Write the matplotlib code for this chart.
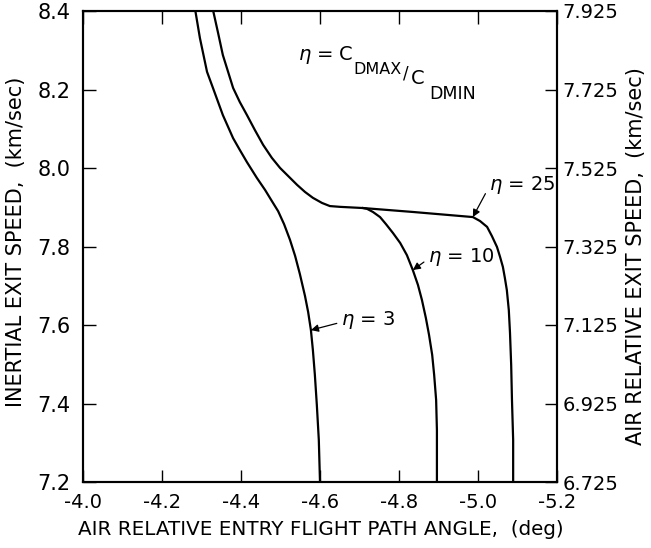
import matplotlib
matplotlib.use("Agg")
import matplotlib.pyplot as plt

# ---- Exit speed vs. entry flight path angle for three drag-modulation ratios ----
# eta = 3
gamma_3 = [-4.284, -4.296, -4.314, -4.329, -4.354, -4.380, -4.397, -4.415, -4.440,
           -4.461, -4.478, -4.494, -4.509, -4.524, -4.537, -4.549, -4.562, -4.570,
           -4.577, -4.582, -4.587, -4.592, -4.597, -4.600]
v_3 = [8.403, 8.331, 8.245, 8.204, 8.135, 8.076, 8.046, 8.015, 7.975,
       7.944, 7.916, 7.890, 7.857, 7.817, 7.776, 7.730, 7.674, 7.633,
       7.587, 7.536, 7.473, 7.396, 7.307, 7.200]

# eta = 25
gamma_25 = [-4.329, -4.342, -4.354, -4.380, -4.397, -4.415, -4.435, -4.456, -4.478,
            -4.499, -4.522, -4.542, -4.562, -4.582, -4.605, -4.625, -4.651, -4.709,
            -4.835, -4.987, -5.005, -5.023, -5.035, -5.048, -5.056, -5.063, -5.068,
            -5.073, -5.078, -5.081, -5.084, -5.086, -5.089, -5.089]
v_25 = [8.403, 8.344, 8.288, 8.204, 8.168, 8.135, 8.097, 8.059, 8.026,
        8.000, 7.977, 7.957, 7.939, 7.924, 7.911, 7.903, 7.901, 7.898,
        7.888, 7.875, 7.865, 7.850, 7.827, 7.799, 7.773, 7.748, 7.720,
        7.689, 7.638, 7.580, 7.498, 7.409, 7.307, 7.200]

# eta = 10 (shares the upper branch with eta = 25 until it peels off)
gamma_10 = [-4.709, -4.719, -4.734, -4.752, -4.767, -4.785, -4.803, -4.820, -4.835,
            -4.848, -4.858, -4.868, -4.876, -4.884, -4.889, -4.894, -4.896, -4.896]
v_10 = [7.898, 7.896, 7.888, 7.875, 7.857, 7.834, 7.809, 7.778, 7.740,
        7.702, 7.664, 7.618, 7.575, 7.524, 7.473, 7.409, 7.332, 7.200]

x_ticks = [-4.0, -4.2, -4.4, -4.6, -4.8, -5.0, -5.2]
x_ticklabels = ["-4.0", "-4.2", "-4.4", "-4.6", "-4.8", "-5.0", "-5.2"]
y_ticks = [7.2, 7.4, 7.6, 7.8, 8.0, 8.2, 8.4]
y_ticklabels = ["7.2", "7.4", "7.6", "7.8", "8.0", "8.2", "8.4"]
y2_ticks = [6.725, 6.925, 7.125, 7.325, 7.525, 7.725, 7.925]
y2_ticklabels = ["6.725", "6.925", "7.125", "7.325", "7.525", "7.725", "7.925"]

plt.rcParams["font.family"] = ["DejaVu Sans"]
plt.rcParams["mathtext.fontset"] = "dejavusans"

W, H = 651, 548
fig = plt.figure(figsize=(W / 100, H / 100), dpi=100)
ax = fig.add_axes([83 / W, 1 - 482 / H, 474 / W, 471 / H])

for gx, vy in [(gamma_3, v_3), (gamma_25, v_25), (gamma_10, v_10)]:
    ax.plot(gx, vy, color="black", linewidth=1.6, solid_joinstyle="round")

ax.set_xlim(-4.0, -5.2)
ax.set_ylim(7.2, 8.4)
ax.set_xticks(x_ticks)
ax.set_xticklabels(x_ticklabels, fontsize=14)
ax.set_yticks(y_ticks)
ax.set_yticklabels(y_ticklabels, fontsize=15)
ax.tick_params(axis="both", direction="in", length=9, width=1.0, top=True, pad=9)
ax.tick_params(axis="x", pad=8)
for s in ax.spines.values():
    s.set_linewidth(1.5)

ax2 = ax.twinx()
ax2.set_ylim(6.725, 7.925)
ax2.set_yticks(y2_ticks)
ax2.set_yticklabels(y2_ticklabels, fontsize=14)
ax2.tick_params(axis="y", direction="in", length=9, width=1.0, pad=4)
for s in ax2.spines.values():
    s.set_linewidth(1.5)

ax.set_xlabel("AIR RELATIVE ENTRY FLIGHT PATH ANGLE,  (deg)", fontsize=14.3)
ax.xaxis.set_label_coords(0.502, -0.08)
ax.set_ylabel("INERTIAL EXIT SPEED,  (km/sec)", fontsize=15)
ax.yaxis.set_label_coords(-0.12, 0.51)
ax2.set_ylabel("AIR RELATIVE EXIT SPEED,  (km/sec)", fontsize=15)
ax2.yaxis.set_label_coords(1.145, 0.48)

# curve labels with arrows
arrow = dict(arrowstyle="-|>", color="black", lw=0.9, mutation_scale=11,
             shrinkA=1, shrinkB=0, relpos=(0, 0.4))
ax.annotate(r"$\eta$ = 25", xy=(gamma_25[19], v_25[19]), xytext=(16, 32),
            textcoords="offset pixels", ha="left", va="center", fontsize=14,
            arrowprops=arrow)
ax.annotate(r"$\eta$ = 10", xy=(gamma_10[8], v_10[8]), xytext=(15, 13),
            textcoords="offset pixels", ha="left", va="center", fontsize=14,
            arrowprops=arrow)
ax.annotate(r"$\eta$ = 3", xy=(gamma_3[18], v_3[18]), xytext=(30, 10),
            textcoords="offset pixels", ha="left", va="center", fontsize=14,
            arrowprops=arrow)

# ratio definition, lettered as stacked subscripts
def px(x, y):
    return ((x - 83) / 474, (482 - y) / 471)

ax.text(*px(298, 56), r"$\eta$ =", transform=ax.transAxes, fontsize=14, ha="left", va="center")
ax.text(*px(339, 55), "C", transform=ax.transAxes, fontsize=14, ha="left", va="center")
ax.text(*px(353, 69), "DMAX", transform=ax.transAxes, fontsize=11.5, ha="left", va="center")
ax.text(*px(403, 73), "/", transform=ax.transAxes, fontsize=12, ha="left", va="center")
ax.text(*px(411, 79), "C", transform=ax.transAxes, fontsize=14, ha="left", va="center")
ax.text(*px(429, 94), "DMIN", transform=ax.transAxes, fontsize=12.5, ha="left", va="center")

fig.savefig("out.png", dpi=100)
